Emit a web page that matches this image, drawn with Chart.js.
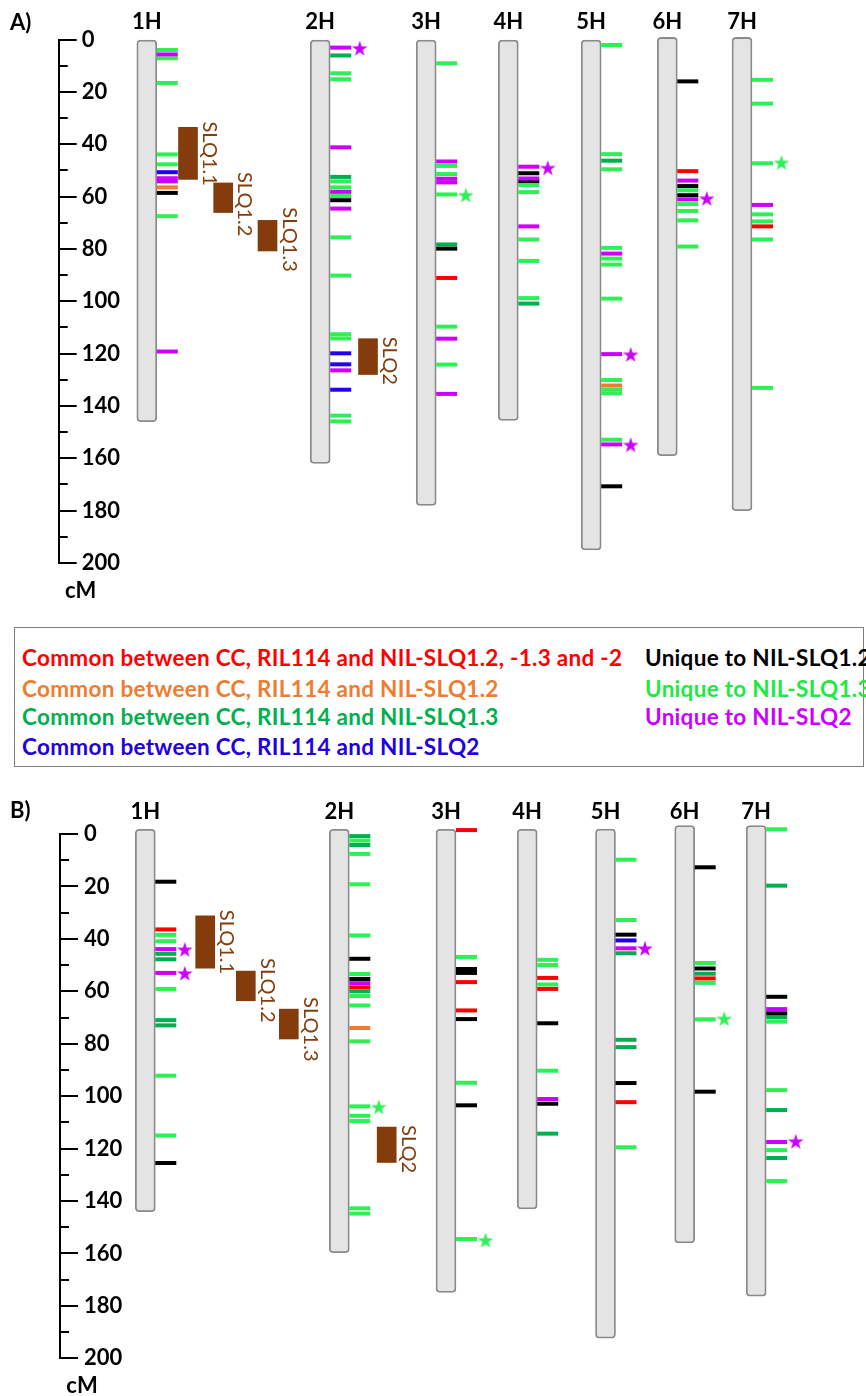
<!DOCTYPE html>
<html><head><meta charset="utf-8">
<script src="https://cdn.jsdelivr.net/npm/chart.js@4.4.1/dist/chart.umd.min.js"></script>
<style>
html,body{margin:0;padding:0;background:#fff;}
#page{position:relative;width:866px;height:1396px;overflow:hidden;font-family:Lato,"Open Sans",sans-serif;background:#fff;}
#page canvas{position:absolute;left:0;}
#legend{position:absolute;left:14px;top:627px;width:850px;height:140px;border:1px solid #7f7f7f;box-sizing:border-box;}
.lg{position:absolute;font-family:Lato,sans-serif;font-weight:bold;white-space:nowrap;line-height:1;transform:translateY(-50%);}
</style></head><body>
<div id="page">
<canvas id="cA" width="866" height="612" style="top:0px"></canvas>
<div id="legend"></div>
<canvas id="cB" width="866" height="626" style="top:770px"></canvas>
</div>
<script>
// ---------------- DATA ----------------
const CHROMOSOMES = ['1H','2H','3H','4H','5H','6H','7H'];
const Y_LABELS = [0,20,40,60,80,100,120,140,160,180,200];
const QTL_NAMES = ['SLQ1.1','SLQ1.2','SLQ1.3','SLQ2'];
const SERIES_KEYS = ['red','orange','dkgreen','blue','black','green','magenta'];
const CLASS_LABELS = [
  'Common between CC, RIL114 and NIL-SLQ1.2, -1.3 and -2',
  'Common between CC, RIL114 and NIL-SLQ1.2',
  'Common between CC, RIL114 and NIL-SLQ1.3',
  'Common between CC, RIL114 and NIL-SLQ2',
  'Unique to NIL-SLQ1.2',
  'Unique to NIL-SLQ1.3',
  'Unique to NIL-SLQ2'
];

// Panel A: chromosome extents (cM)
const A_CHROM_TOP = [0, 0, 0, 0, 0, -0.8, -0.8];
const A_CHROM_END = [146, 162, 178, 145.5, 195, 159, 180];
// Panel A: QTL intervals (cM)
const A_QTL_START = [33.6, 54.8, 69.1, 114.3];
const A_QTL_END   = [53.5, 66.1, 80.8, 128];
// Panel A markers: [chromosome, cM]
const A_RED = [['3H',91.1],['6H',50.3],['7H',71.4]];
const A_ORANGE = [['1H',56.5],['5H',132.2]];
const A_DKGREEN = [['2H',6.1],['2H',52.5],['3H',78.3],['4H',100.9],['5H',46.3]];
const A_BLUE = [['1H',50.7],['2H',119.9],['2H',124.1],['2H',133.8]];
const A_BLACK = [['1H',58.6],['2H',61.4],['3H',79.9],['4H',51.1],['4H',54.2],['5H',170.7],['6H',16.0],['6H',56.0],['6H',59.5]];
const A_GREEN = [['1H',4.0],['1H',7.2],['1H',16.6],['1H',43.9],['1H',47.7],['1H',67.5],
  ['2H',12.9],['2H',15.2],['2H',54.2],['2H',56.5],['2H',59.8],['2H',75.6],['2H',90.2],['2H',112.6],['2H',114.2],['2H',143.7],['2H',145.9],
  ['3H',9.1],['3H',48.3],['3H',51.4],['3H',59.2],['3H',109.7],['3H',124.2],
  ['4H',55.6],['4H',58.3],['4H',76.4],['4H',84.6],['4H',98.8],
  ['5H',2.1],['5H',43.8],['5H',49.6],['5H',79.6],['5H',83.7],['5H',86.0],['5H',99.0],['5H',130.1],['5H',133.8],['5H',135.2],['5H',152.9],
  ['6H',57.6],['6H',62.9],['6H',65.5],['6H',69.1],['6H',79.1],
  ['7H',15.4],['7H',24.5],['7H',47.3],['7H',66.8],['7H',69.5],['7H',76.4],['7H',133.1]];
const A_MAGENTA = [['1H',5.7],['1H',53.0],['1H',54.2],['1H',119.2],
  ['2H',3.1],['2H',41.2],['2H',58.2],['2H',64.6],['2H',126.4],
  ['3H',46.6],['3H',53.2],['3H',54.6],['3H',114.3],['3H',135.4],
  ['4H',48.6],['4H',53.1],['4H',71.4],
  ['5H',81.8],['5H',120.2],['5H',154.7],
  ['6H',53.9],['6H',61.1],['7H',63.2]];
const A_STAR_MAGENTA = [['2H',3.6],['4H',49.3],['5H',120.6],['5H',155.1],['6H',61.0]];
const A_STAR_GREEN = [['3H',59.7],['7H',47.3]];

// Panel B
const B_CHROM_TOP = [-1.8, -1.8, -1.8, -1.8, -1.9, -3.2, -3.2];
const B_CHROM_END = [144.1, 159.7, 174.9, 143, 192.3, 156, 176.3];
const B_QTL_START = [31.2, 52.3, 66.8, 111.8];
const B_QTL_END   = [51.2, 63.6, 78.2, 125.3];
const B_RED = [['1H',36.4],['2H',58.5],['3H',-1.5],['3H',56.5],['3H',67.3],['4H',54.9],['4H',59.1],['5H',102.3],['6H',55.1]];
const B_ORANGE = [['2H',74.0]];
const B_DKGREEN = [['1H',45.7],['1H',47.8],['1H',71.0],['1H',73.0],['2H',0.8],['2H',4.2],['2H',60.0],['4H',114.3],
  ['5H',45.5],['5H',78.5],['5H',81.3],['6H',53.3],['7H',19.7],['7H',69.9],['7H',105.3],['7H',123.6]];
const B_BLUE = [['5H',40.6]];
const B_BLACK = [['1H',18.2],['1H',125.5],['2H',47.6],['2H',55.3],['3H',51.5],['3H',53.0],['3H',70.6],['3H',103.5],
  ['4H',72.2],['4H',102.9],['5H',38.4],['5H',95.0],['6H',12.7],['6H',51.3],['6H',98.3],['7H',62.1],['7H',68.4]];
const B_GREEN = [['1H',38.5],['1H',40.9],['1H',59.1],['1H',92.2],['1H',115.0],
  ['2H',2.5],['2H',7.6],['2H',19.2],['2H',38.7],['2H',53.4],['2H',61.8],['2H',65.4],['2H',79.1],['2H',103.9],['2H',107.5],['2H',109.5],['2H',142.8],['2H',144.8],
  ['3H',46.9],['3H',94.9],['3H',154.5],
  ['4H',48.0],['4H',50.0],['4H',57.4],['4H',90.3],
  ['5H',9.8],['5H',32.8],['5H',119.5],
  ['6H',49.2],['6H',56.8],['6H',70.7],
  ['7H',-1.8],['7H',71.6],['7H',97.7],['7H',120.6],['7H',132.4]];
const B_MAGENTA = [['1H',43.9],['1H',53.0],['2H',56.9],['4H',101.1],['5H',43.6],['7H',66.8],['7H',117.5]];
const B_STAR_MAGENTA = [['1H',44.3],['1H',53.4],['5H',43.9],['7H',117.5]];
const B_STAR_GREEN = [['2H',104.4],['3H',155.2],['6H',70.7]];

// ---------------- STYLE / LAYOUT ----------------
const COLORS = {red:'#FF0000', orange:'#ED7D31', dkgreen:'#00B050', blue:'#2200F0', black:'#000000', green:'#2EF055', magenta:'#CC00FF'};
const LEGEND_COLORS = {red:'#FF0000', orange:'#ED7D31', dkgreen:'#00B050', blue:'#2200E0', black:'#000000', green:'#22E840', magenta:'#CC00FF'};
const BROWN = '#843C0C';
const LAYOUT_A = {H:612, axisX:58.7, y0:39.5, y200:563, tickPad:23,
  chrX:[146.8,320.2,426.2,508.3,591.2,667.3,742], qtlX:[188,223.2,267.5,368],
  qtlLabelDy:[-6,-11,-13,-2], labelY:21.5, letter:'A)', letterY:23};
const LAYOUT_B = {H:626, axisX:60, y0:64, y200:588.3, tickPad:24,
  chrX:[145.3,339.3,446,527.2,605.5,684.7,756.2], qtlX:[205.2,245.8,288.8,386.7],
  qtlLabelDy:[-6,-13,-12,-2], labelY:42, letter:'B)', letterY:41};
const MARK_DX = 20.5, MARK_R = 10.5, STAR_DX = 39.5;
const LEG_X = [7,7,7,7,630,630,630];
const LEG_Y = [30,61,89,119,30,61,89];

function starImg(color){
  const c=document.createElement('canvas'); c.width=c.height=18;
  const g=c.getContext('2d'); g.fillStyle=color; g.beginPath();
  for(let i=0;i<10;i++){const r=i%2?3.2:8.2; const a=-Math.PI/2+i*Math.PI/5; g.lineTo(9+r*Math.cos(a),9+r*Math.sin(a));}
  g.closePath(); g.fill(); return c;
}
const STARS = {magenta:starImg(COLORS.magenta), green:starImg(COLORS.green)};

const decorPlugin = {
  id:'decor',
  afterDraw(chart){
    const L = chart.options.plugins.decor.layout;
    const ctx = chart.ctx, ys = chart.scales.y, ca = chart.chartArea;
    const ax = ca.left;
    ctx.save();
    // tick marks (major / minor) to the right of the axis line
    ctx.strokeStyle='#000'; ctx.lineWidth=2;
    ys.ticks.forEach(t=>{
      const py = Math.round(ys.getPixelForValue(t.value));
      const len = Y_LABELS.includes(t.value) ? 18 : 9;
      ctx.beginPath(); ctx.moveTo(ax, py); ctx.lineTo(ax+len, py); ctx.stroke();
    });
    // chromosome names
    ctx.fillStyle='#000'; ctx.font='bold 22px Lato'; ctx.textAlign='center'; ctx.textBaseline='middle';
    const cm = chart.getDatasetMeta(0);
    cm.data.forEach((el,i)=>{ ctx.fillText(CHROMOSOMES[i], el.x, L.labelY); });
    // axis unit + panel letter
    ctx.fillText('cM', ax+22, ca.bottom+28);
    ctx.textAlign='left';
    ctx.fillText(L.letter, 10, L.letterY);
    // QTL labels (rotated)
    const qm = chart.getDatasetMeta(1);
    ctx.fillStyle=BROWN; ctx.font='20px Lato';
    qm.data.forEach((el,i)=>{
      const top = Math.min(el.y, el.base), right = el.x + el.width/2;
      ctx.save(); ctx.translate(right+12, top+L.qtlLabelDy[i]); ctx.rotate(Math.PI/2);
      ctx.textAlign='left'; ctx.textBaseline='middle'; ctx.fillText(QTL_NAMES[i],0,0); ctx.restore();
    });
    ctx.restore();
  }
};

function makeChart(id, P, L){
  const idx = c => CHROMOSOMES.indexOf(c);
  const datasets = [];
  datasets.push({type:'bar', label:'chromosomes', clip:false,
    data: CHROMOSOMES.map((c,i)=>({x:L.chrX[i], y:[P.top[i], P.end[i]]})),
    barThickness:20, grouped:false, backgroundColor:'#E4E4E4', borderColor:'#8A8A8A',
    borderWidth:1.8, borderRadius:4, borderSkipped:false, order:20});
  datasets.push({type:'bar', label:'QTL', clip:false,
    data: QTL_NAMES.map((n,i)=>({x:L.qtlX[i], y:[P.qs[i], P.qe[i]]})),
    barThickness:19, grouped:false, backgroundColor:BROWN, borderWidth:0, order:19});
  SERIES_KEYS.forEach((k,j)=>{
    datasets.push({type:'scatter', label:CLASS_LABELS[j], clip:false,
      data: P.marks[k].map(([c,v])=>({x:L.chrX[idx(c)]+MARK_DX, y:v})),
      pointStyle:'line', pointRadius:MARK_R, pointHoverRadius:MARK_R,
      pointBorderWidth:4, pointHoverBorderWidth:4,
      borderColor:COLORS[k], pointBorderColor:COLORS[k], backgroundColor:COLORS[k], order:10-j});
  });
  ['magenta','green'].forEach(k=>{
    datasets.push({type:'scatter', label:'star '+k, clip:false,
      data: P.stars[k].map(([c,v])=>({x:L.chrX[idx(c)]+STAR_DX, y:v})),
      pointStyle:STARS[k], pointRadius:8, pointHoverRadius:8, order:0});
  });
  const ch = new Chart(document.getElementById(id), {
    type:'bar',
    data:{datasets},
    options:{
      responsive:false, animation:false, devicePixelRatio:1, events:[],
      layout:{padding:{left:L.axisX-2*L.tickPad, right:0, top:L.y0, bottom:L.H-L.y200}},
      plugins:{legend:{display:false}, tooltip:{enabled:false}, decor:{layout:L}},
      scales:{
        x:{type:'linear', display:false, offset:false, min:0, max:866},
        y:{type:'linear', reverse:true, min:0, max:200, position:'left',
           ticks:{stepSize:10, autoSkip:false, mirror:true, padding:L.tickPad, color:'#000',
                  font:{family:'Lato', weight:'bold', size:22},
                  callback:v=>Y_LABELS.includes(v)?String(v):''},
           grid:{display:true, drawOnChartArea:false, drawTicks:false},
           border:{display:true, color:'#000', width:2}}
      }
    },
    plugins:[decorPlugin]
  });
  ch.options.scales.x.min = ch.chartArea.left;
  ch.options.scales.x.max = ch.chartArea.right;
  ch.update();
  return ch;
}

const PANEL_A = {top:A_CHROM_TOP, end:A_CHROM_END, qs:A_QTL_START, qe:A_QTL_END,
  marks:{red:A_RED, orange:A_ORANGE, dkgreen:A_DKGREEN, blue:A_BLUE, black:A_BLACK, green:A_GREEN, magenta:A_MAGENTA},
  stars:{magenta:A_STAR_MAGENTA, green:A_STAR_GREEN}};
const PANEL_B = {top:B_CHROM_TOP, end:B_CHROM_END, qs:B_QTL_START, qe:B_QTL_END,
  marks:{red:B_RED, orange:B_ORANGE, dkgreen:B_DKGREEN, blue:B_BLUE, black:B_BLACK, green:B_GREEN, magenta:B_MAGENTA},
  stars:{magenta:B_STAR_MAGENTA, green:B_STAR_GREEN}};

makeChart('cA', PANEL_A, LAYOUT_A);
makeChart('cB', PANEL_B, LAYOUT_B);

// legend box (HTML text coloured like the marks), condensed to the reference width
(function(){
  const FS = 22.5;
  const m = document.createElement('canvas').getContext('2d');
  m.font = 'bold '+FS+'px Lato';
  const t0 = CLASS_LABELS[0];
  const ls = (600 - m.measureText(t0).width) / t0.length;
  const box = document.getElementById('legend');
  CLASS_LABELS.forEach((t,i)=>{
    const d=document.createElement('div'); d.className='lg'; d.textContent=t;
    d.style.color=LEGEND_COLORS[SERIES_KEYS[i]]; d.style.fontSize=FS+'px';
    d.style.letterSpacing=ls.toFixed(2)+'px';
    d.style.left=LEG_X[i]+'px'; d.style.top=LEG_Y[i]+'px'; box.appendChild(d);
  });
})();
</script>
</body></html>
